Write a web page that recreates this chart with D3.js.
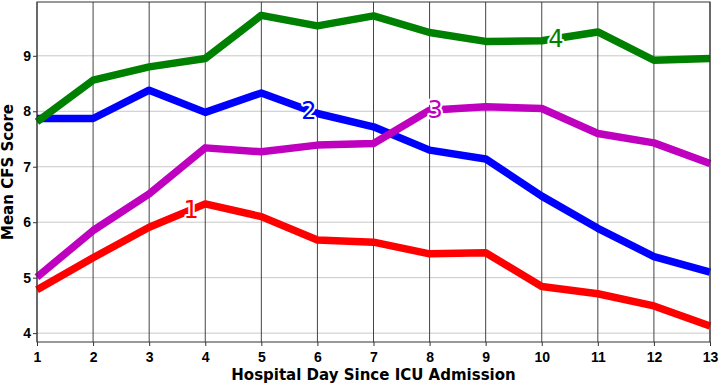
<!DOCTYPE html>
<html>
<head>
<meta charset="utf-8">
<script src="https://cdn.jsdelivr.net/npm/d3@7"></script>
<style>
  body { margin: 0; background: #fff; }
  svg { display: block; font-family: "DejaVu Sans", sans-serif; }
  .tick text { font-weight: bold; font-size: 14px; fill: #000; }
</style>
</head>
<body>
<svg id="chart" width="720" height="383"></svg>
<script>
// hospital days
var days = [1, 2, 3, 4, 5, 6, 7, 8, 9, 10, 11, 12, 13];
var yTicks = [4, 5, 6, 7, 8, 9];

// mean CFS score per cluster
var cluster1 = [4.78, 5.36, 5.91, 6.33, 6.10, 5.68, 5.64, 5.43, 5.45, 4.84, 4.71, 4.49, 4.13];
var cluster2 = [7.87, 7.87, 8.38, 7.98, 8.33, 7.96, 7.72, 7.30, 7.14, 6.47, 5.89, 5.38, 5.10];
var cluster3 = [5.01, 5.85, 6.51, 7.34, 7.27, 7.39, 7.42, 8.02, 8.08, 8.05, 7.60, 7.43, 7.06];
var cluster4 = [7.81, 8.56, 8.80, 8.95, 9.73, 9.54, 9.72, 9.42, 9.26, 9.27, 9.43, 8.92, 8.95];

var seriesNames = ['1', '2', '3', '4'];
var seriesColors = ['#ff0000', '#0000ff', '#bf00bf', '#008000'];
// x position (in days) of the inline label for each line
var labelDays = [3.75, 5.85, 8.1, 10.25];

var series = [cluster1, cluster2, cluster3, cluster4];

var svg = d3.select('#chart');
var margin = {top: 2, right: 10, bottom: 41, left: 37};
var width = 720 - margin.left - margin.right;
var height = 383 - margin.top - margin.bottom;

var x = d3.scaleLinear().domain([1, 13]).range([0, width]);
var y = d3.scaleLinear().domain([3.84, 9.97]).range([height, 0]);

var g = svg.append('g').attr('transform', 'translate(' + margin.left + ',' + margin.top + ')');

// horizontal grid
g.append('g').selectAll('line').data(yTicks).enter().append('line')
  .attr('x1', 0).attr('x2', width)
  .attr('y1', function(d) { return y(d); })
  .attr('y2', function(d) { return y(d); })
  .attr('stroke', '#c8c8c8').attr('stroke-width', 1);

// vertical grid
g.append('g').selectAll('line').data(days).enter().append('line')
  .attr('y1', 0).attr('y2', height)
  .attr('x1', function(d) { return x(d); })
  .attr('x2', function(d) { return x(d); })
  .attr('stroke', '#444').attr('stroke-width', 1);

var line = d3.line()
  .x(function(d, i) { return x(days[i]); })
  .y(function(d) { return y(d); });

g.append('g').selectAll('path').data(series).enter().append('path')
  .attr('d', line)
  .attr('fill', 'none')
  .attr('stroke', function(d, i) { return seriesColors[i]; })
  .attr('stroke-width', 7.5)
  .attr('stroke-linejoin', 'round');

// inline labels sitting on the lines
function valueAt(values, day) {
  var i = Math.min(Math.floor(day) - 1, values.length - 2);
  var t = day - (i + 1);
  return values[i] + (values[i + 1] - values[i]) * t;
}

g.append('g').selectAll('text').data(series).enter().append('text')
  .attr('x', function(d, i) { return x(labelDays[i]); })
  .attr('y', function(d, i) { return y(valueAt(d, labelDays[i])); })
  .attr('dy', '0.36em')
  .attr('text-anchor', 'middle')
  .attr('font-size', 24)
  .attr('fill', function(d, i) { return seriesColors[i]; })
  .attr('stroke', '#fff')
  .attr('stroke-width', 4)
  .attr('stroke-linejoin', 'round')
  .attr('paint-order', 'stroke')
  .text(function(d, i) { return seriesNames[i]; });

// frame
g.append('rect')
  .attr('width', width).attr('height', height)
  .attr('fill', 'none').attr('stroke', '#333').attr('stroke-width', 1);

var xAxis = g.append('g')
  .attr('transform', 'translate(0,' + height + ')')
  .call(d3.axisBottom(x).tickValues(days).tickFormat(d3.format('d')).tickSizeOuter(0).tickSize(4));
var yAxis = g.append('g')
  .call(d3.axisLeft(y).tickValues(yTicks).tickFormat(d3.format('d')).tickSizeOuter(0).tickSize(4));
xAxis.select('.domain').remove();
yAxis.select('.domain').remove();
xAxis.selectAll('.tick line').attr('stroke', '#333');
yAxis.selectAll('.tick line').attr('stroke', '#333');
xAxis.selectAll('.tick text').attr('dy', '0.9em');
yAxis.selectAll('.tick text').attr('x', -6);

svg.append('text')
  .attr('x', margin.left + width / 2)
  .attr('y', 380)
  .attr('text-anchor', 'middle')
  .attr('font-weight', 'bold')
  .attr('font-size', 15)
  .text('Hospital Day Since ICU Admission');

svg.append('text')
  .attr('transform', 'translate(13,' + (margin.top + height / 2) + ') rotate(-90)')
  .attr('text-anchor', 'middle')
  .attr('font-weight', 'bold')
  .attr('font-size', 15)
  .text('Mean CFS Score');
</script>
</body>
</html>
